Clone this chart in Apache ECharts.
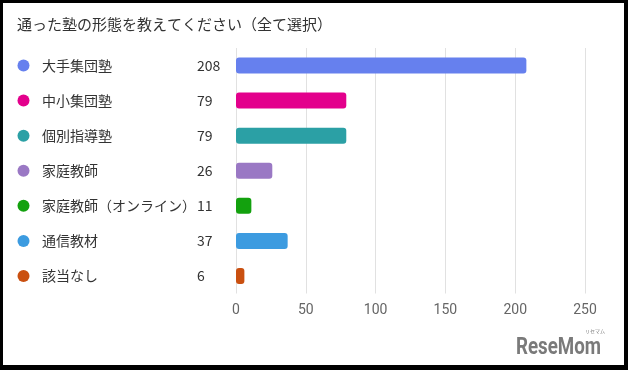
<!DOCTYPE html>
<html><head><meta charset="utf-8">
<script src="https://cdn.jsdelivr.net/npm/echarts@6/dist/echarts.min.js"></script>
<style>
html,body{margin:0;padding:0;background:#000;width:628px;height:370px;overflow:hidden}
#c{position:absolute;left:3px;top:3px;width:621px;height:362px;background:#fff}
</style></head><body><div id="c"></div>
<script>
const titleText = '通った塾の形態を教えてください（全て選択）';
const categories = ['大手集団塾','中小集団塾','個別指導塾','家庭教師','家庭教師（オンライン）','通信教材','該当なし'];
const values = [208, 79, 79, 26, 11, 37, 6];
const colors = ['#6680ee','#e3008c','#2ba0a5','#9a78c4','#13a10e','#3c9be0','#ca5010'];
const xTicks = [0, 50, 100, 150, 200, 250];

const font = '"Noto Sans CJK JP","Noto Sans",sans-serif';
const rich = {
  g: {width: 12.5, fontSize: 14, lineHeight: 20, fontFamily: font, verticalAlign: 'middle'},
  n: {width: 155, fontSize: 14, lineHeight: 20, color: '#333', fontFamily: font, verticalAlign: 'middle'},
  v: {fontSize: 14, lineHeight: 20, color: '#333', fontFamily: font, verticalAlign: 'middle'}
};
colors.forEach((c, i) => {
  rich['d' + i] = {width: 12, height: 12, borderRadius: 6, backgroundColor: c, verticalAlign: 'middle'};
});

const chart = echarts.init(document.getElementById('c'));
chart.setOption({
  animation: false,
  title: {text: titleText, left: 9, top: 9, textStyle: {fontSize: 15, fontWeight: 'normal', color: '#333', fontFamily: font}},
  grid: {left: 233, right: 39, top: 45, bottom: 71.5},
  xAxis: {
    type: 'value', min: xTicks[0], max: xTicks[xTicks.length - 1], interval: 50,
    axisLine: {show: false}, axisTick: {show: false},
    splitLine: {lineStyle: {color: '#e1e1e1', width: 1}},
    axisLabel: {fontSize: 14, color: '#666', margin: 10, fontFamily: 'Roboto,"Noto Sans",sans-serif'}
  },
  yAxis: {
    type: 'category', data: categories, inverse: true,
    axisLine: {show: false}, axisTick: {show: false},
    axisLabel: {
      align: 'left', margin: 218.5,
      formatter: (name, idx) => '{d' + idx + '| }{g| }{n|' + name + '}{v|' + values[idx] + '}',
      rich: rich
    }
  },
  series: [{
    type: 'bar', data: values.map((v, i) => ({value: v, itemStyle: {color: colors[i]}})),
    barWidth: 16, itemStyle: {borderRadius: 3}
  }],
  graphic: [
    {type: 'text', left: 513, top: 333, scaleX: 0.78, style: {text: 'ReseMom', fontSize: 24, fontWeight: 'bold', fill: '#7a7a7a', fontFamily: 'Roboto,sans-serif'}},
    {type: 'text', left: 582, top: 326, style: {text: 'リセマム', fontSize: 5, fill: '#7a7a7a', fontFamily: font}}
  ]
});
</script></body></html>
